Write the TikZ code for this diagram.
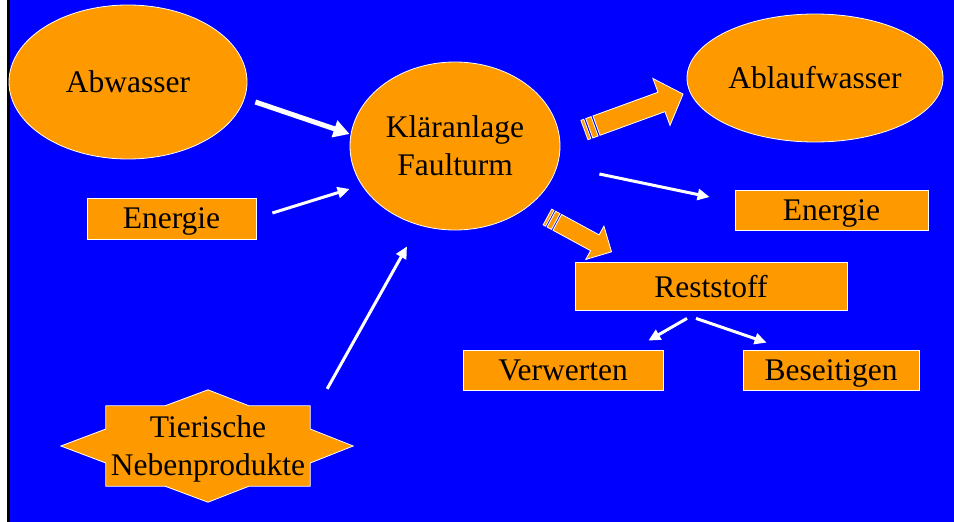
\documentclass[tikz,border=0pt]{standalone}
\usepackage{fontspec}
\setmainfont{Liberation Serif}
\usepackage{tikz}
\usetikzlibrary{positioning,shapes.geometric,arrows.meta,backgrounds}

\definecolor{slideblue}{RGB}{0,0,255}
\definecolor{slideorange}{RGB}{255,153,0}

\tikzset{
  arrowbody/.style={fill=slideorange, draw=white, line width=0.8pt},
  pics/stripearrow/.style n args={4}{code={
      \filldraw[arrowbody] (0,-#2) rectangle (0.3*#2,#2);
      \filldraw[arrowbody] (0.5*#2,-#2) rectangle (1.05*#2,#2);
      \filldraw[arrowbody] (1.25*#2,-#2) -- (#1-#4,-#2) -- (#1-#4,-#3) -- (#1,0)
        -- (#1-#4,#3) -- (#1-#4,#2) -- (1.25*#2,#2) -- cycle;
  }}
}

\begin{document}
\begin{tikzpicture}[x=1pt, y=-1pt,
              every node/.style = {font=\fontsize{31.5}{38}\selectfont, text=black, inner sep=0pt},
              blob/.style = {ellipse, fill=slideorange, draw=white, line width=0.8pt},
              box/.style = {rectangle, fill=slideorange, draw=white, line width=0.8pt, text depth=0pt},
              flow/.style = {draw=white, line width=3pt, -{Triangle[length=12pt,width=11pt]}},
              bigflow/.style = {flow, line width=5pt, -{Triangle[length=16pt,width=17pt]}}]
  \useasboundingbox (0,0) rectangle (954,522);

  \node[blob, minimum width=238pt, minimum height=154pt] (abw) at (128,82) {Abwasser};
  \node[blob, minimum width=210pt, minimum height=168pt, align=center] (klaer) at (455,146) {Kläranlage\\Faulturm};
  \node[blob, minimum width=256pt, minimum height=128pt] (ablauf) at (815,78) {Ablaufwasser};
  \node[box, minimum width=169pt, minimum height=41pt] (enL) at (171.5,218.5) {Energie};
  \node[box, minimum width=193pt, minimum height=40pt] (enR) at (831.5,210) {Energie};
  \node[box, minimum width=272pt, minimum height=48pt] (rest) at (711,286) {Reststoff};
  \node[box, minimum width=200pt, minimum height=40pt] (verw) at (563,370) {Verwerten};
  \node[box, minimum width=176pt, minimum height=40pt] (beseit) at (831,370) {Beseitigen};
  \node[minimum width=204pt, minimum height=80pt, align=center, text depth=0pt] (tier) at (208,446) {Tierische\\Nebenprodukte};

  % slide background and the star behind the text
  \begin{scope}[on background layer]
    \fill[white] (0,0) rectangle (954,522);
    \fill[black] (7,0) rectangle (10,522);
    \fill[slideblue] (10,0) rectangle (954,522);
    \filldraw[arrowbody] (tier.north west) -- ([shift={(-43,0)}]tier.north) -- ([shift={(0,-16)}]tier.north)
      -- ([shift={(41,0)}]tier.north) -- (tier.north east) -- ([shift={(0,-17)}]tier.east)
      -- ([shift={(43,0)}]tier.east) -- ([shift={(0,17)}]tier.east) -- (tier.south east)
      -- ([shift={(41,0)}]tier.south) -- ([shift={(0,16)}]tier.south) -- ([shift={(-43,0)}]tier.south)
      -- (tier.south west) -- ([shift={(0,17)}]tier.west) -- ([shift={(-45,0)}]tier.west)
      -- ([shift={(0,-17)}]tier.west) -- cycle;
  \end{scope}

  % inflows
  \draw[bigflow] ([shift={(8,20)}]abw.east) -- ([shift={(0,-12)}]klaer.west);
  \draw[flow] ([shift={(16,-5.5)}]enL.east) -- ([shift={(0,43)}]klaer.west);
  \draw[flow] ([shift={(17,-17)}]tier.north east) -- ([shift={(-48,16)}]klaer.south);

  % outflows
  \coordinate (toablauf) at ([shift={(24,-16)}]klaer.east);
  \coordinate (torest) at ([shift={(-13,71)}]klaer.east);
  \pic[rotate=20] at (toablauf) {stripearrow={105}{10.3}{25}{23}};
  \pic[rotate=-28.5] at (torest) {stripearrow={73}{9}{19}{19}};
  \draw[flow] ([shift={(39,28)}]klaer.east) -- ([shift={(-25,-13)}]enR.west);

  \draw[flow] ([shift={(-24,8)}]rest.south) -- ([shift={(-15,-9)}]verw.north east);
  \draw[flow] ([shift={(-15,8)}]rest.south) -- ([shift={(24,-7)}]beseit.north west);
\end{tikzpicture}
\end{document}
